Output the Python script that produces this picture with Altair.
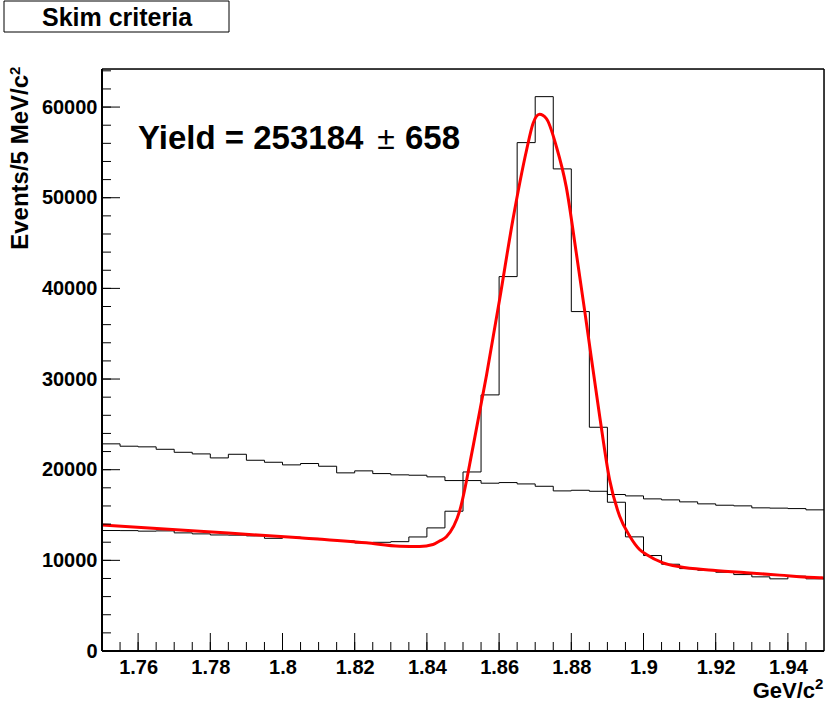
import altair as alt
import pandas as pd

# ---------------- data ----------------
x_lo, x_hi, bin_w = 1.75, 1.95, 0.005
y_top = 64200

sig_counts = [13290, 13280, 13220, 13250, 13030, 12920, 12800, 12780, 12700, 12430,
              12550, 12420, 12290, 12140, 11920, 11990, 12060, 12580, 13580, 15420,
              19750, 28250, 41300, 56080, 61150, 53180, 37440, 24680, 16410, 12590,
              10530, 9570, 9090, 8910, 8690, 8430, 8180, 7960, 8250, 7960]

bkg_counts = [22850, 22590, 22520, 22250, 21920, 21740, 21300, 21700, 21040, 20820,
              20530, 20680, 20380, 19650, 19870, 19570, 19430, 19390, 19210, 18800,
              18800, 18510, 18580, 18430, 18170, 17660, 17730, 17620, 17260, 17110,
              16780, 16670, 16450, 16230, 16080, 16010, 15790, 15760, 15710, 15570]

fit_x = [1.7500, 1.7771, 1.8048, 1.8232, 1.8325, 1.8380, 1.8417, 1.8435, 1.8454, 1.8491,
         1.8528, 1.8565, 1.8602, 1.8638, 1.8676, 1.8694, 1.8712, 1.8731, 1.8759, 1.8786,
         1.8814, 1.8842, 1.8878, 1.8906, 1.8934, 1.8962, 1.8989, 1.9008, 1.9054, 1.9100,
         1.9192, 1.9285, 1.9377, 1.9488, 1.9499]
fit_y = [13900, 13210, 12490, 11930, 11560, 11530, 11750, 12130, 12600, 15490,
         22570, 30400, 38900, 47530, 55240, 58200, 59200, 58730, 55600, 51200,
         43860, 36160, 26070, 18900, 14860, 12660, 11200, 10650, 9730, 9290,
         8920, 8630, 8370, 8080, 8060]

x_major = [1.76, 1.78, 1.80, 1.82, 1.84, 1.86, 1.88, 1.90, 1.92, 1.94]
y_major = [0, 10000, 20000, 30000, 40000, 50000, 60000]
x_minor = [round(x_lo + bin_w * i, 3) for i in range(1, 40)]
y_minor = [2000 * i for i in range(1, 33)]

title_box = "Skim criteria"
yield_txt = ["Yield = 253184", "\u00b1", "658"]
x_title = ["GeV/c", "2"]
y_title = ["Events/5 MeV/c", "2"]

# ---------------- tables ----------------
edges = [round(x_lo + bin_w * i, 3) for i in range(41)]
df_sig = pd.DataFrame({"x": edges, "y": sig_counts + [sig_counts[-1]]})
df_bkg = pd.DataFrame({"x": edges, "y": bkg_counts + [bkg_counts[-1]]})
df_fit = pd.DataFrame({"x": fit_x, "y": fit_y})

W, H = 722, 582
FONT = "Liberation Sans"

xs = alt.Scale(domain=[x_lo, x_hi], nice=False, zero=False)
ys = alt.Scale(domain=[0, y_top], nice=False)

x_axis = alt.Axis(values=x_major, format="~g", ticks=False, domain=False, grid=False,
                  title=None, labelFont=FONT, labelFontWeight="bold", labelFontSize=20,
                  labelColor="black", labelPadding=6, labelFlush=False)
y_axis = alt.Axis(values=y_major, format="d", ticks=False, domain=False, grid=False,
                  title=None, labelFont=FONT, labelFontWeight="bold", labelFontSize=20,
                  labelColor="black", labelPadding=5)


def X(field="x"):
    return alt.X(f"{field}:Q", scale=xs, axis=x_axis)


def Y(field="y"):
    return alt.Y(f"{field}:Q", scale=ys, axis=y_axis)


sig = alt.Chart(df_sig).mark_line(interpolate="step-after", color="black", strokeWidth=1).encode(
    x=X(), y=Y())
bkg = alt.Chart(df_bkg).mark_line(interpolate="step-after", color="black", strokeWidth=1).encode(
    x=X(), y=Y())
fit = alt.Chart(df_fit).mark_line(interpolate="monotone", color="#ff0000", strokeWidth=3).encode(
    x=X(), y=Y())

# inward ticks (ROOT style)
xt_major = alt.Chart(pd.DataFrame({"x": x_major})).mark_rule(color="black", strokeWidth=1).encode(
    x=X(), y=alt.value(H), y2=alt.value(H - 18))
xt_minor = alt.Chart(pd.DataFrame({"x": x_minor})).mark_rule(color="black", strokeWidth=1).encode(
    x=X(), y=alt.value(H), y2=alt.value(H - 9))
yt_major = alt.Chart(pd.DataFrame({"y": y_major})).mark_rule(color="black", strokeWidth=1).encode(
    y=Y(), x=alt.value(0), x2=alt.value(18))
yt_minor = alt.Chart(pd.DataFrame({"y": y_minor})).mark_rule(color="black", strokeWidth=1).encode(
    y=Y(), x=alt.value(0), x2=alt.value(9))

# frame lines (axis lines thicker, drawn over the frame)
one = pd.DataFrame({"a": [0]})
left_line = alt.Chart(one).mark_rule(color="black", strokeWidth=2).encode(
    x=alt.value(0), y=alt.value(0), y2=alt.value(H))
bottom_line = alt.Chart(one).mark_rule(color="black", strokeWidth=2).encode(
    x=alt.value(0), x2=alt.value(W), y=alt.value(H))
top_line = alt.Chart(one).mark_rule(color="black", strokeWidth=1.5).encode(
    x=alt.value(0), x2=alt.value(W), y=alt.value(0))
right_line = alt.Chart(one).mark_rule(color="black", strokeWidth=1.5).encode(
    x=alt.value(W), y=alt.value(0), y2=alt.value(H))


def label(txt, x, y, size, weight="bold", align="left", angle=0):
    return alt.Chart(pd.DataFrame({"t": [txt]})).mark_text(
        font=FONT, fontWeight=weight, fontSize=size, align=align, baseline="alphabetic",
        angle=angle, color="black"
    ).encode(text="t:N", x=alt.value(x), y=alt.value(y))


box = alt.Chart(one).mark_rect(fill="white", stroke="black", strokeWidth=1).encode(
    x=alt.value(-98), x2=alt.value(127), y=alt.value(-68), y2=alt.value(-37))
box_txt = label(title_box, 15, -43, 25, align="center")

y1 = label(yield_txt[0], 36, 80, 33)
y2 = label(yield_txt[1], 284, 80, 32, weight="normal", align="center")
y3 = label(yield_txt[2], 303, 80, 33)

xt1 = label(x_title[0], W - 9, H + 47, 22, align="right")
xt2 = label(x_title[1], W - 9, H + 38, 15)
yt1 = label(y_title[0], -74, 6, 24, align="right", angle=270)
yt2 = label(y_title[1], -82, 6, 15, align="left", angle=270)

chart = alt.layer(
    bkg, sig, fit, xt_major, xt_minor, yt_major, yt_minor,
    left_line, bottom_line, top_line, right_line,
    box, box_txt, y1, y2, y3, xt1, xt2, yt1, yt2
).properties(
    width=W, height=H,
    autosize=alt.AutoSizeParams(type="none"),
    padding={"left": 102, "top": 69, "right": 3, "bottom": 53},
).configure_view(
    stroke="black", strokeWidth=1, fill="white"
).configure(background="white")

chart.save("out.html", embed_options={"renderer": "svg", "actions": False})
